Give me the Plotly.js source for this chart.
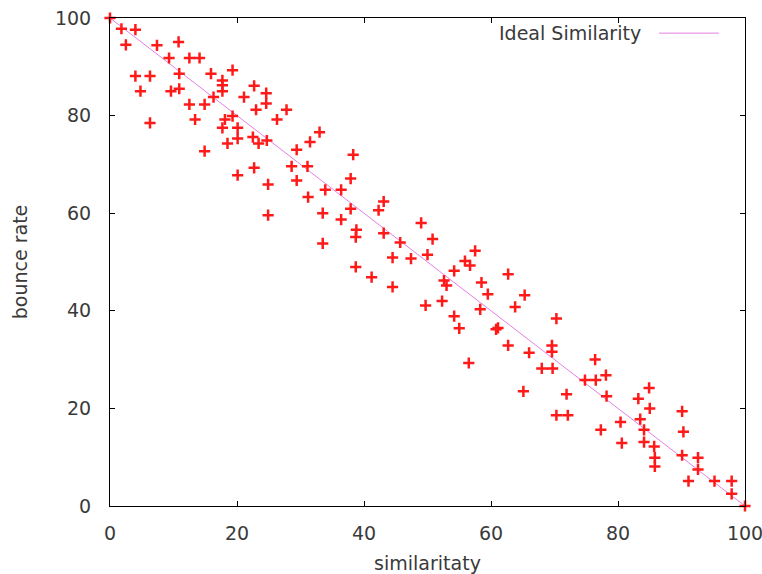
<!DOCTYPE html>
<html>
<head>
<meta charset="utf-8">
<script src="https://cdn.plot.ly/plotly-3.0.1.min.js"></script>
<style>html,body{margin:0;padding:0;background:#fff;}#chart{width:762px;height:574px;}</style>
</head>
<body>
<div id="chart"></div>
<script>
var similarity = [0,1.8,4.0,2.5,10.8,7.4,9.3,12.5,14.1,10.9,4.0,6.3,15.9,19.3,17.7,17.7,17.7,4.8,9.6,10.9,
16.3,12.5,14.9,6.3,13.4,18.1,19.3,17.7,20.1,22.7,21.1,24.6,24.6,23.0,27.8,26.3,20.1,18.5,22.5,23.4,
24.7,14.9,29.4,31.5,33.0,20.1,22.7,24.9,28.6,31.1,29.4,38.3,37.9,33.9,36.4,31.2,43.1,37.9,42.3,24.9,
33.5,36.4,38.8,38.7,43.1,33.5,49.0,45.7,50.8,44.5,47.4,50.0,57.5,55.9,56.7,54.2,38.7,41.2,44.5,52.6,
53.0,49.7,52.3,62.7,58.5,59.5,65.3,63.8,58.3,54.2,55.0,60.8,61.1,62.7,66.0,69.6,69.6,70.3,56.5,68.0,
69.7,76.4,74.8,76.5,78.1,78.2,65.1,71.9,70.3,72.1,83.2,84.9,85.0,90.1,80.4,83.5,77.3,84.1,90.3,80.6,
84.1,85.7,85.8,85.8,90.1,92.6,92.6,91.1,95.2,97.9,97.9,100];
var bounceRate = [100,97.8,97.6,94.5,95.1,94.4,91.8,91.8,91.8,88.6,88.1,88.1,88.6,89.3,87.2,86.2,85.0,85.0,85.0,85.5,
83.8,82.3,82.3,78.5,79.2,79.2,79.9,77.5,77.5,86.1,83.8,84.6,82.5,81.2,81.2,79.2,75.3,74.3,75.6,74.3,
74.9,72.7,73.0,74.6,76.6,67.8,69.3,65.9,69.6,69.6,66.7,72.0,67.1,64.8,64.8,63.3,62.4,60.9,60.6,59.6,
60.0,58.7,56.6,55.1,55.9,53.8,58.0,54.0,54.7,50.9,50.7,51.5,52.3,50.2,49.3,48.2,49.0,46.9,44.9,46.2,
45.2,41.1,42.0,47.5,45.8,43.4,43.2,40.8,40.3,38.9,36.4,36.2,36.5,32.9,31.4,32.9,31.6,38.4,29.3,28.2,
28.2,30.0,25.8,25.8,26.8,22.5,23.5,22.9,18.6,18.6,22.0,24.2,20.0,19.4,17.2,17.8,15.6,15.6,15.2,12.9,
13.1,12.2,9.9,8.1,10.4,9.9,7.5,5.1,5.1,5.1,2.5,0];
var idealX = [0, 100];
var idealY = [100, 0];
var tickVals = [0, 20, 40, 60, 80, 100];
var legendLabel = 'Ideal Similarity';

var FONT = 'DejaVu Sans, sans-serif';
var TXT = '#3a3a3a';
var traces = [
  {x: idealX, y: idealY, mode: 'lines', name: legendLabel, showlegend: false,
   line: {color: '#e67fe6', width: 1}, hoverinfo: 'skip'},
  {x: similarity, y: bounceRate, mode: 'markers', showlegend: false, cliponaxis: false,
   marker: {symbol: 'cross-thin', size: 8, line: {color: '#ff1a1a', width: 2.5}, color: '#ff1a1a'}}
];
var axisCommon = {
  range: [0, 100], tickvals: tickVals, ticktext: tickVals.map(String),
  showgrid: false, zeroline: false, showline: true, linecolor: '#000', linewidth: 1,
  mirror: 'ticks', ticks: 'inside', ticklen: 5, tickcolor: '#000', tickwidth: 1,
  tickfont: {family: FONT, size: 19, color: TXT}, fixedrange: true,
  ticklabeloverflow: 'allow'
};
var layout = {
  width: 762, height: 574,
  margin: {l: 110, r: 17, t: 18, b: 68},
  paper_bgcolor: '#fff', plot_bgcolor: '#fff',
  showlegend: false,
  xaxis: Object.assign({}, axisCommon, {
    title: {text: 'similaritaty', font: {family: FONT, size: 19, color: TXT}, standoff: 14},
    ticklabelstandoff: 10
  }),
  yaxis: Object.assign({}, axisCommon, {
    title: {text: 'bounce rate', font: {family: FONT, size: 19, color: TXT}, standoff: 22},
    ticklabelstandoff: 14
  }),
  annotations: [{
    xref: 'paper', yref: 'paper', x: 0.8394, y: 0.969, xanchor: 'right', yanchor: 'middle',
    text: legendLabel, showarrow: false, font: {family: FONT, size: 19, color: TXT}
  }],
  shapes: [{
    type: 'line', xref: 'paper', yref: 'paper', x0: 0.8646, x1: 0.959, y0: 0.969, y1: 0.969,
    line: {color: '#e67fe6', width: 1}
  }]
};
Plotly.newPlot('chart', traces, layout, {displayModeBar: false, staticPlot: true});
</script>
</body>
</html>
